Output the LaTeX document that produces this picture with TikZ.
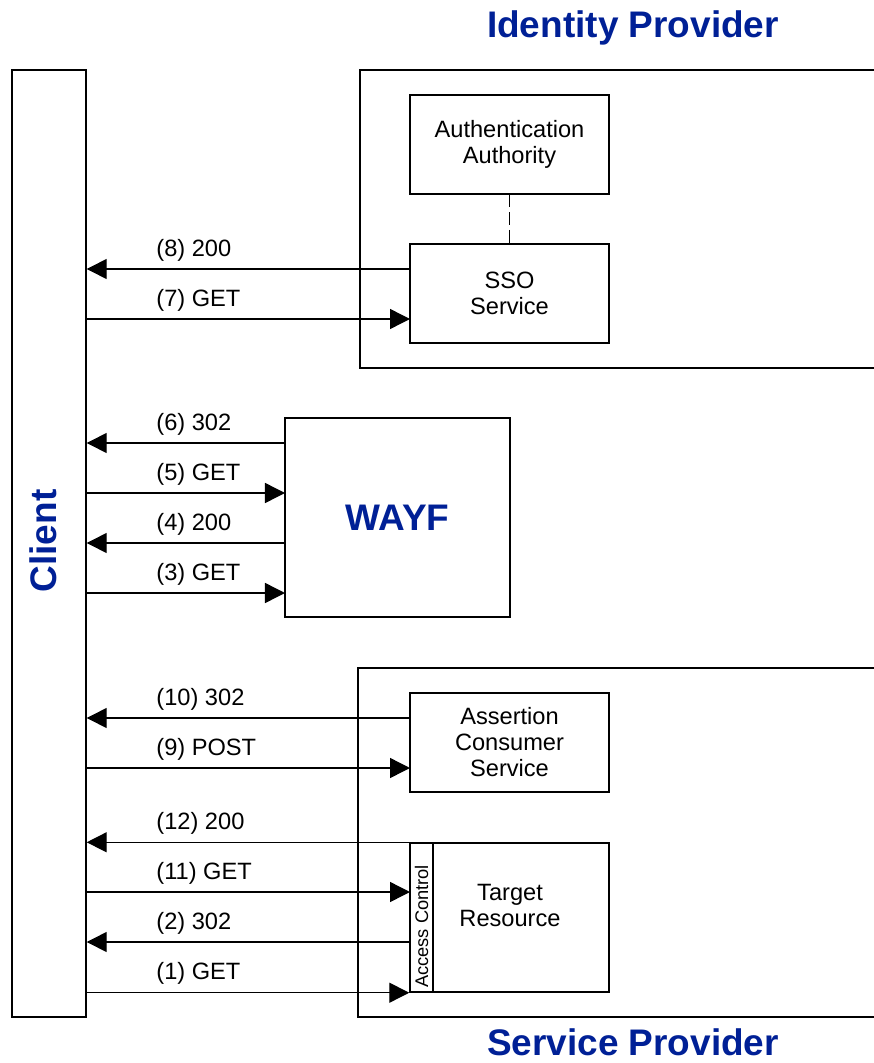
\documentclass[tikz,border=0pt]{standalone}
\usepackage{fontspec}
\setmainfont{Liberation Sans}
\usetikzlibrary{arrows.meta}
\definecolor{idblue}{RGB}{0,32,150}

\begin{document}
\begin{tikzpicture}[
x=0.025cm,y=-0.025cm,
line width=1pt,
box/.style={draw,minimum width=4.975cm,minimum height=2.475cm,
align=center,inner sep=0,font=\fontsize{16.8}{18.5}\selectfont},
msg/.style={anchor=west,inner sep=0,xshift=1.725cm,yshift=0.475cm,
font=\fontsize{16.8}{18.5}\selectfont},
heading/.style={text=idblue,inner sep=0,font=\fontsize{26.3}{30}\selectfont\bfseries},
>={Triangle[length=0.5cm,width=0.5cm]}]

\useasboundingbox (0,0) rectangle (873,1063);

% client
\node[draw,minimum width=1.85cm,minimum height=23.675cm] (client) at (49,543.5) {};
\node[heading,rotate=90] (clientname) at (43,541) {Client};

% identity provider
\draw (360,70) rectangle (900,368);
\node[heading] (idp) at (633,28) {Identity Provider};
\node[box] (auth) at (509.5,144.5) {Authentication\\Authority};
\node[box] (sso) at (509.5,293.5) {SSO\\Service};
\draw[dash pattern=on 9pt off 3.5pt] (auth) -- (sso);

% wayf
\node[box,minimum width=5.625cm,minimum height=4.975cm] (wayf) at (397.5,517.5) {};
\node[heading] (wayfname) at (397.5,518) {WAYF};

% service provider
\draw (358,668) rectangle (900,1017);
\node[heading] (sp) at (633,1042) {Service Provider};
\node[box] (acs) at (509.5,742.5) {Assertion\\Consumer\\Service};
\node[box,minimum height=3.725cm] (target) at (509.5,917.5) {};
\node[align=center,inner sep=0,font=\fontsize{16.8}{18.5}\selectfont] (targetname) at (510,905) {Target\\Resource};
\node[draw,minimum width=0.575cm,minimum height=3.725cm,inner sep=0] (ac) at (421.5,917.5) {};
\node[rotate=90,inner sep=0,font=\fontsize{13}{15}\selectfont] (acname) at (421.5,926.5) {Access Control};

\coordinate (m8) at (410,269);
\coordinate (m7) at (410,319);
\coordinate (m6) at (285,443);
\coordinate (m5) at (285,493);
\coordinate (m4) at (285,543);
\coordinate (m3) at (285,593);
\coordinate (m10) at (410,718);
\coordinate (m9) at (410,768);
\coordinate (m11) at (410,892);
\coordinate (m2) at (410,942);

\draw[->] (m8) -- (m8 -| client.east) node[msg] {(8) 200};
\draw[->] (m7 -| client.east) node[msg] {(7) GET} -- (m7);
\draw[->] (m6) -- (m6 -| client.east) node[msg] {(6) 302};
\draw[->] (m5 -| client.east) node[msg] {(5) GET} -- (m5);
\draw[->] (m4) -- (m4 -| client.east) node[msg] {(4) 200};
\draw[->] (m3 -| client.east) node[msg] {(3) GET} -- (m3);
\draw[->] (m10) -- (m10 -| client.east) node[msg] {(10) 302};
\draw[->] (m9 -| client.east) node[msg] {(9) POST} -- (m9);
\draw[->] (target.north east) -- (target.north east -| client.east) node[msg] {(12) 200};
\draw[->] (m11 -| client.east) node[msg] {(11) GET} -- (m11);
\draw[->] (m2) -- (m2 -| client.east) node[msg] {(2) 302};
\draw[->] (target.south west -| client.east) node[msg] {(1) GET} -- (target.south west);

\end{tikzpicture}
\end{document}
